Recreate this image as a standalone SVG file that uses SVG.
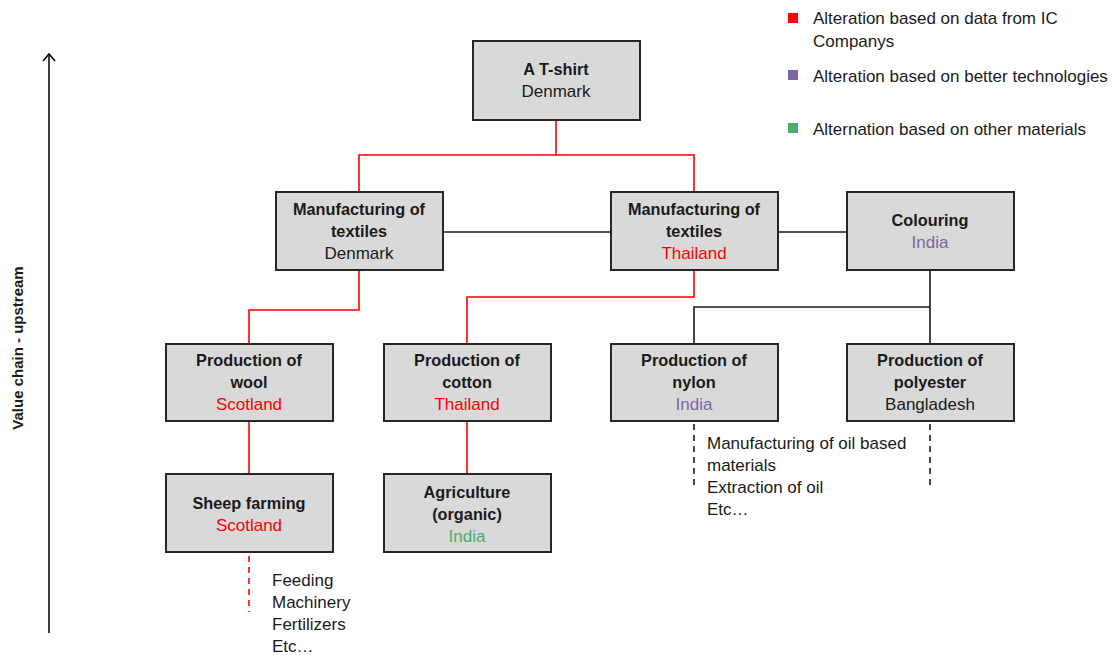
<svg xmlns="http://www.w3.org/2000/svg" width="1118" height="655" viewBox="0 0 1118 655">
<defs>
<style>
.box{fill:#D9D9D9;stroke:#262626;stroke-width:2}
text{font-family:"Liberation Sans",Arial,sans-serif;font-size:17px;fill:#1a1a1a}
.b{font-weight:bold;font-size:16.3px}
.c{text-anchor:middle}
.red{fill:#FF0000}
.pur{fill:#8064A2}
.grn{fill:#4BAC6E}
.rl{fill:none;stroke:#FF0000;stroke-width:1.6}
.bl{fill:none;stroke:#1a1a1a;stroke-width:1.6}
.rd{fill:none;stroke:#FF0000;stroke-width:1.6;stroke-dasharray:6,5}
.bd{fill:none;stroke:#1a1a1a;stroke-width:1.6;stroke-dasharray:6,5}
</style>
<marker id="arr" markerWidth="14" markerHeight="14" refX="7" refY="2" orient="0" markerUnits="userSpaceOnUse">
<path d="M1,9 L7,2 L13,9" fill="none" stroke="#000" stroke-width="1.5"/>
</marker>
</defs>
<rect width="1118" height="655" fill="#fff"/>

<g id="connectors">
<path class="rl" d="M556,120 V155 H359 V192 M556,155 H694 V192"/>
<path class="bl" d="M443,232 H611 M778,232 H847"/>
<path class="rl" d="M359,270 V310 H249 V344"/>
<path class="rl" d="M694,270 V297 H467 V344"/>
<path class="bl" d="M930,270 V344 M930,307 H694 V344"/>
<path class="rl" d="M249,421 V474 M467,421 V474"/>
<path class="rd" d="M249,556 V612"/>
<path class="bd" d="M694,424 V490 M930,424 V490"/>
</g>

<g id="axis">
<line x1="49" y1="633" x2="49" y2="54" stroke="#000" stroke-width="1.5" marker-end="url(#arr)"/>
<text class="b" transform="translate(23,348) rotate(-90)" text-anchor="middle" style="font-size:15px">Value chain -  upstream</text>
</g>

<g id="legend">
<rect x="788" y="13" width="10" height="10" fill="#FF0000"/>
<text x="813" y="24">Alteration based on data from IC</text>
<text x="813" y="47">Companys</text>
<rect x="788" y="70" width="10" height="10" fill="#8064A2"/>
<text x="813" y="82">Alteration based on better technologies</text>
<rect x="788" y="123" width="10" height="10" fill="#4BAC6E"/>
<text x="813" y="135">Alternation based on other materials</text>
</g>

<g id="tshirt">
<rect class="box" x="473" y="41" width="167" height="79"/>
<text class="b c" x="556" y="75">A T-shirt</text>
<text class="c" x="556" y="97">Denmark</text>
</g>

<g id="mfg-denmark">
<rect class="box" x="276" y="192" width="167" height="78"/>
<text class="b c" x="359" y="215">Manufacturing of</text>
<text class="b c" x="359" y="237">textiles</text>
<text class="c" x="359" y="259">Denmark</text>
</g>

<g id="mfg-thailand">
<rect class="box" x="611" y="192" width="167" height="78"/>
<text class="b c" x="694" y="215">Manufacturing of</text>
<text class="b c" x="694" y="237">textiles</text>
<text class="c red" x="694" y="259">Thailand</text>
</g>

<g id="colouring">
<rect class="box" x="847" y="192" width="167" height="78"/>
<text class="b c" x="930" y="226">Colouring</text>
<text class="c pur" x="930" y="248">India</text>
</g>

<g id="wool">
<rect class="box" x="166" y="344" width="167" height="77"/>
<text class="b c" x="249" y="366">Production of</text>
<text class="b c" x="249" y="388">wool</text>
<text class="c red" x="249" y="410">Scotland</text>
</g>

<g id="cotton">
<rect class="box" x="384" y="344" width="167" height="77"/>
<text class="b c" x="467" y="366">Production of</text>
<text class="b c" x="467" y="388">cotton</text>
<text class="c red" x="467" y="410">Thailand</text>
</g>

<g id="nylon">
<rect class="box" x="611" y="344" width="167" height="77"/>
<text class="b c" x="694" y="366">Production of</text>
<text class="b c" x="694" y="388">nylon</text>
<text class="c pur" x="694" y="410">India</text>
</g>

<g id="polyester">
<rect class="box" x="847" y="344" width="167" height="77"/>
<text class="b c" x="930" y="366">Production of</text>
<text class="b c" x="930" y="388">polyester</text>
<text class="c" x="930" y="410">Bangladesh</text>
</g>

<g id="sheep">
<rect class="box" x="166" y="474" width="167" height="78"/>
<text class="b c" x="249" y="509">Sheep farming</text>
<text class="c red" x="249" y="531">Scotland</text>
</g>

<g id="agriculture">
<rect class="box" x="384" y="474" width="167" height="78"/>
<text class="b c" x="467" y="498">Agriculture</text>
<text class="b c" x="467" y="520">(organic)</text>
<text class="c grn" x="467" y="542">India</text>
</g>

<g id="notes">
<text x="272" y="586">Feeding</text>
<text x="272" y="608">Machinery</text>
<text x="272" y="630">Fertilizers</text>
<text x="272" y="652">Etc…</text>
<text x="707" y="449">Manufacturing of oil based</text>
<text x="707" y="471">materials</text>
<text x="707" y="493">Extraction of oil</text>
<text x="707" y="515">Etc…</text>
</g>
</svg>
